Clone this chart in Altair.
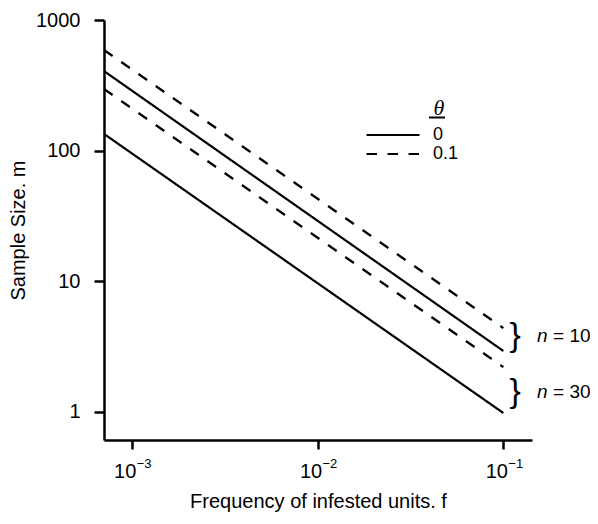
import altair as alt
import pandas as pd

# ---- data ----
freq = [0.00071, 0.1]                      # left edge of plot, f = 10^-1
series_n = ["10", "10", "30", "30"]
series_theta = ["0.1", "0", "0.1", "0"]
m_start = [589, 406, 296, 134]             # sample size at left edge
m_end = [4.36, 2.91, 2.19, 0.974]          # sample size at f = 0.1

x_domain = [0.00071, 0.1426]
y_domain = [0.605, 1000]
x_ticks = [0.001, 0.01, 0.1]
x_exponents = ["\u22123", "\u22122", "\u22121"]
y_ticks = [1, 10, 100, 1000]

group_labels = ["= 10", "= 30"]
group_f = [0.1156, 0.1156]
group_m = [3.76, 1.40]

theta_order = ["0", "0.1"]

FONT = "Liberation Sans"

rows = []
for n, th, a, b in zip(series_n, series_theta, m_start, m_end):
    for f, m in zip(freq, [a, b]):
        rows.append({"f": f, "m": m, "n": n, "theta": th, "key": f"{n}_{th}"})
lines_df = pd.DataFrame(rows)

exp_df = pd.DataFrame({"f": x_ticks, "e": x_exponents})
grp_df = pd.DataFrame({"f": group_f, "m": group_m, "lab": group_labels,
                       "brace": ["}", "}"], "nn": ["n", "n"]})
theta_df = pd.DataFrame({"t": ["\u03b8"]})

x_scale = alt.Scale(type="log", domain=x_domain, nice=False)
y_scale = alt.Scale(type="log", domain=y_domain, nice=False)

x_enc = alt.X("f:Q", scale=x_scale,
              axis=alt.Axis(values=x_ticks, labelExpr="'10'", labelOffset=-7,
                            title="Frequency of infested units. f",
                            tickSize=9, labelPadding=12, titlePadding=10))
y_enc = alt.Y("m:Q", scale=y_scale,
              axis=alt.Axis(values=y_ticks, labelExpr="format(datum.value, 'd')",
                            title="Sample Size. m", tickSize=10,
                            labelPadding=14, titlePadding=7))

lines = alt.Chart(lines_df).mark_line(color="black", strokeWidth=2.2).encode(
    x=x_enc,
    y=y_enc,
    detail="key:N",
    strokeDash=alt.StrokeDash(
        "theta:N",
        scale=alt.Scale(domain=theta_order, range=[[1, 0], [10.5, 10.5]]),
        legend=alt.Legend(orient="none", legendX=261, legendY=106.5,
                          symbolType="stroke", symbolSize=2809, clipHeight=17,
                          symbolStrokeWidth=2.2, symbolStrokeColor="black",
                          labelFont=FONT, labelFontSize=18, labelColor="black",
                          labelOffset=12, rowPadding=0, padding=0, title=None),
    ),
)

exps = alt.Chart(exp_df).mark_text(align="left", baseline="alphabetic", dx=5,
                                   fontSize=13, font=FONT, color="black").encode(
    x=alt.X("f:Q", scale=x_scale), y=alt.value(448), text="e:N")

braces = alt.Chart(grp_df).mark_text(align="center", baseline="middle", fontSize=34,
                                     font=FONT, color="black").encode(
    x=alt.X("f:Q", scale=x_scale), y=alt.Y("m:Q", scale=y_scale), text="brace:N")

n_italic = alt.Chart(grp_df).mark_text(align="left", baseline="middle", dx=22,
                                       fontSize=19, font=FONT, fontStyle="italic",
                                       color="black").encode(
    x=alt.X("f:Q", scale=x_scale), y=alt.Y("m:Q", scale=y_scale), text="nn:N")

n_rest = alt.Chart(grp_df).mark_text(align="left", baseline="middle", dx=38,
                                     fontSize=19, font=FONT, color="black").encode(
    x=alt.X("f:Q", scale=x_scale), y=alt.Y("m:Q", scale=y_scale), text="lab:N")

theta_title = alt.Chart(theta_df).mark_text(align="center", baseline="alphabetic",
                                            fontSize=22, font="Liberation Serif",
                                            fontStyle="italic", color="black").encode(
    x=alt.value(335), y=alt.value(95), text="t:N")

underline = alt.Chart(theta_df).mark_rule(color="black", strokeWidth=2).encode(
    x=alt.value(325), x2=alt.value(341), y=alt.value(97.5))

chart = alt.layer(lines, exps, braces, n_italic, n_rest, theta_title, underline).properties(
    width=428, height=420,
    autosize=alt.AutoSizeParams(type="none"),
    padding={"left": 96, "top": 12, "right": 58, "bottom": 72},
).configure_view(strokeWidth=0).configure_axis(
    grid=False, domainColor="black", domainWidth=2.5, tickColor="black",
    tickWidth=2.5, labelColor="black", titleColor="black", labelFont=FONT,
    titleFont=FONT, labelFontSize=20, titleFontSize=20, titleFontWeight="normal",
)

chart.save("out.html", embed_options={"renderer": "svg", "actions": False})
